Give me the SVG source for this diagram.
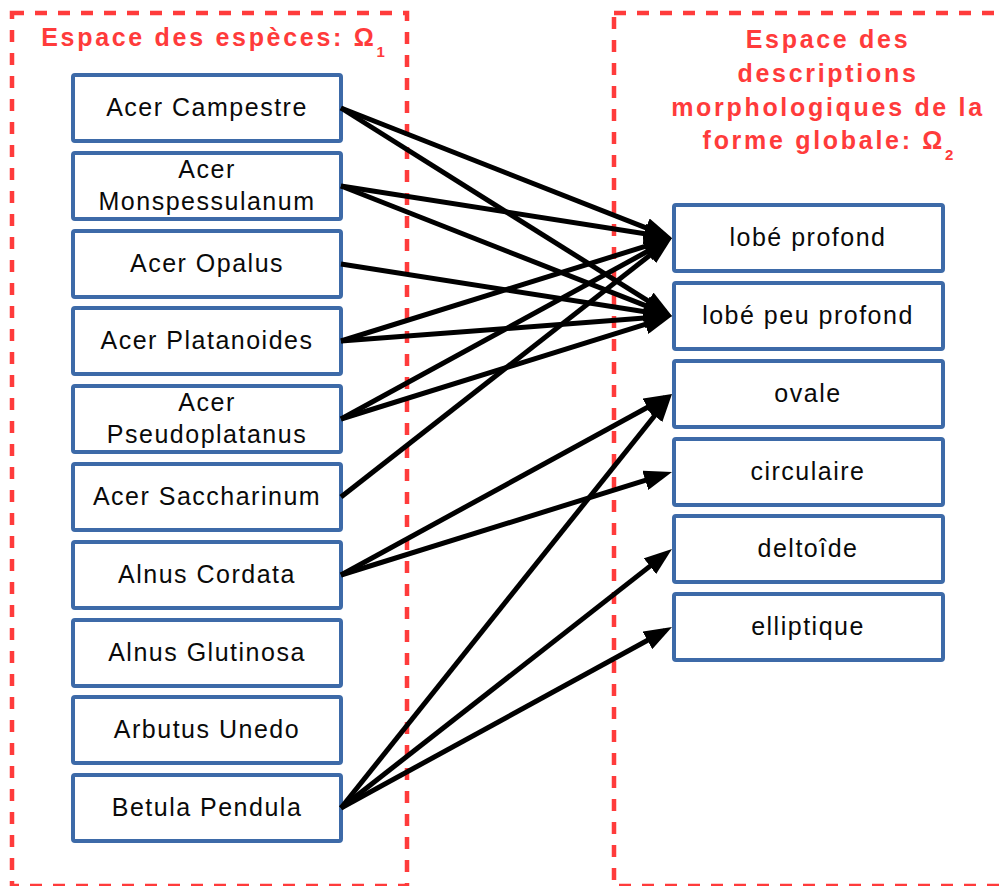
<svg xmlns="http://www.w3.org/2000/svg" width="1001" height="886" viewBox="0 0 1001 886">
<style>
.frame{fill:none;stroke:#ff3b3b;stroke-width:4.5;stroke-dasharray:12 11}
.box{fill:#fff;stroke:#3d6aa8;stroke-width:4}
.lbl{font-family:"Liberation Sans",Arial,sans-serif;font-size:25px;letter-spacing:1.5px;fill:#0a0a0a;text-anchor:middle}
.ttl{font-family:"Liberation Sans",Arial,sans-serif;font-size:25px;font-weight:bold;letter-spacing:2.7px;fill:#ff3b3b;text-anchor:middle}
.sub{font-size:15px;letter-spacing:0}
.conn line{stroke:#000;stroke-width:5;marker-end:url(#ah)}
</style>
<defs>
<marker id="ah" markerUnits="userSpaceOnUse" markerWidth="28" markerHeight="20" refX="20" refY="10" orient="auto" viewBox="0 0 28 20">
<path d="M0,0 L28,10 L0,20 z" fill="#000"/>
</marker>
</defs>
<rect width="1001" height="886" fill="#fff"/>
<g id="frame-species">
<rect class="frame" x="12" y="13" width="395" height="873"/>
<text class="ttl" x="213" y="46">Espace des espèces: Ω<tspan class="sub" dy="11">1</tspan></text>
</g>
<g id="frame-descriptions">
<rect class="frame" x="614" y="13" width="400" height="873"/>
<text class="ttl" x="828" y="48">Espace des</text>
<text class="ttl" x="828" y="82">descriptions</text>
<text class="ttl" x="828" y="116">morphologiques de la</text>
<text class="ttl" x="828" y="149">forme globale: Ω<tspan class="sub" dy="11">2</tspan></text>
</g>
<g id="n-campestre"><rect class="box" x="73" y="75" width="268" height="66" rx="2"/><text class="lbl" x="207" y="116">Acer Campestre</text></g>
<g id="n-monspessulanum"><rect class="box" x="73" y="153" width="268" height="66" rx="2"/><text class="lbl" x="207" y="178">Acer</text><text class="lbl" x="207" y="210">Monspessulanum</text></g>
<g id="n-opalus"><rect class="box" x="73" y="231" width="268" height="66" rx="2"/><text class="lbl" x="207" y="272">Acer Opalus</text></g>
<g id="n-platanoides"><rect class="box" x="73" y="308" width="268" height="66" rx="2"/><text class="lbl" x="207" y="349">Acer Platanoides</text></g>
<g id="n-pseudoplatanus"><rect class="box" x="73" y="386" width="268" height="66" rx="2"/><text class="lbl" x="207" y="411">Acer</text><text class="lbl" x="207" y="443">Pseudoplatanus</text></g>
<g id="n-saccharinum"><rect class="box" x="73" y="464" width="268" height="66" rx="2"/><text class="lbl" x="207" y="505">Acer Saccharinum</text></g>
<g id="n-cordata"><rect class="box" x="73" y="542" width="268" height="66" rx="2"/><text class="lbl" x="207" y="583">Alnus Cordata</text></g>
<g id="n-glutinosa"><rect class="box" x="73" y="620" width="268" height="66" rx="2"/><text class="lbl" x="207" y="661">Alnus Glutinosa</text></g>
<g id="n-unedo"><rect class="box" x="73" y="697" width="268" height="66" rx="2"/><text class="lbl" x="207" y="738">Arbutus Unedo</text></g>
<g id="n-pendula"><rect class="box" x="73" y="775" width="268" height="66" rx="2"/><text class="lbl" x="207" y="816">Betula Pendula</text></g>
<g id="d-lobe-profond"><rect class="box" x="674" y="205" width="269" height="66" rx="2"/><text class="lbl" x="808" y="246">lobé profond</text></g>
<g id="d-lobe-peu-profond"><rect class="box" x="674" y="283" width="269" height="66" rx="2"/><text class="lbl" x="808" y="324">lobé peu profond</text></g>
<g id="d-ovale"><rect class="box" x="674" y="361" width="269" height="66" rx="2"/><text class="lbl" x="808" y="402">ovale</text></g>
<g id="d-circulaire"><rect class="box" x="674" y="439" width="269" height="66" rx="2"/><text class="lbl" x="808" y="480">circulaire</text></g>
<g id="d-deltoide"><rect class="box" x="674" y="516" width="269" height="66" rx="2"/><text class="lbl" x="808" y="557">deltoîde</text></g>
<g id="d-elliptique"><rect class="box" x="674" y="594" width="269" height="66" rx="2"/><text class="lbl" x="808" y="635">elliptique</text></g>
<g id="connectors" class="conn">
<line x1="341" y1="108" x2="664.6" y2="235.1"/>
<line x1="341" y1="108" x2="665.2" y2="311.7"/>
<line x1="341" y1="186" x2="664.1" y2="236.8"/>
<line x1="341" y1="186" x2="664.6" y2="313.1"/>
<line x1="341" y1="264" x2="664.1" y2="314.8"/>
<line x1="341" y1="341" x2="664.4" y2="240.4"/>
<line x1="341" y1="341" x2="664.0" y2="316.6"/>
<line x1="341" y1="419" x2="665.0" y2="241.8"/>
<line x1="341" y1="419" x2="664.4" y2="318.4"/>
<line x1="341" y1="497" x2="665.7" y2="242.9"/>
<line x1="341" y1="575" x2="665.0" y2="397.8"/>
<line x1="341" y1="575" x2="664.4" y2="474.4"/>
<line x1="341" y1="808" x2="667.0" y2="400.2"/>
<line x1="341" y1="808" x2="665.7" y2="553.9"/>
<line x1="341" y1="808" x2="665.0" y2="630.8"/>
</g>
</svg>
